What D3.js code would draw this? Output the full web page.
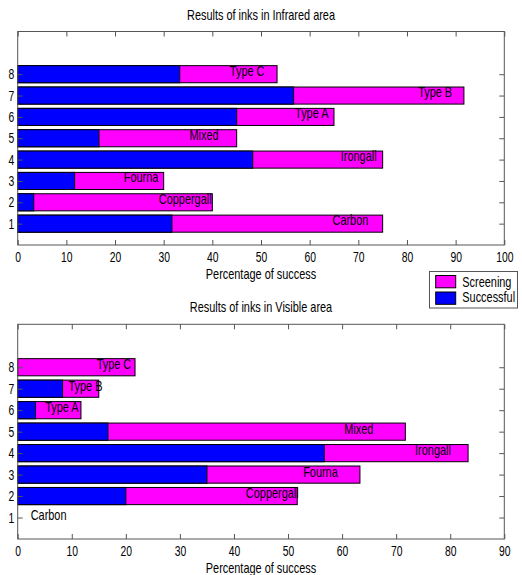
<!DOCTYPE html>
<html>
<head>
<meta charset="utf-8">
<script src="https://cdn.jsdelivr.net/npm/d3@7"></script>
<style>
  body { margin: 0; background: #fff; }
  svg { display: block; }
  text { font-family: "Liberation Sans", Arial, sans-serif; font-size: 14px; fill: #000; }
</style>
</head>
<body>
<svg id="chart" width="522" height="575"></svg>
<script>
// Ink types, one bar per row (rows 1..8)
const inks = ["Carbon", "Coppergall", "Fourna", "Irongall", "Mixed", "Type A", "Type B", "Type C"];
const rows = [1, 2, 3, 4, 5, 6, 7, 8];

// Infrared area: percentage screened and percentage successful
const irScreening  = [75, 40, 30, 75, 45, 65, 91.7, 53.3];
const irSuccessful = [31.7, 3.3, 11.7, 48.3, 16.7, 45, 56.7, 33.3];
// x (in %) where each ink name is written
const irLabelAt    = [64.7, 29.0, 21.8, 66.4, 35.3, 57.0, 82.3, 43.6];
const irTicks      = [0, 10, 20, 30, 40, 50, 60, 70, 80, 90, 100];

// Visible area
const visScreening  = [0, 51.7, 63.3, 83.3, 71.7, 11.7, 15, 21.7];
const visSuccessful = [0, 20, 35, 56.7, 16.7, 3.3, 8.3, 0];
const visLabelAt    = [2.4, 42.2, 52.8, 73.5, 60.4, 5.1, 9.4, 14.6];
const visTicks      = [0, 10, 20, 30, 40, 50, 60, 70, 80, 90];

const seriesNames = ["Screening", "Successful"];
const seriesColors = ["#ff00ff", "#0000ff"];

const SX_NUM = 0.74;      // horizontal squeeze of tick numbers
const SX_TXT = 0.78;      // horizontal squeeze of words
const axisGrey = "#555";
const svg = d3.select("#chart");

function label(parent, x, y, str, anchor) {
  return parent.append("text")
    .attr("transform", `translate(${x},${y}) scale(${SX_TXT},1)`)
    .attr("text-anchor", anchor || "start")
    .text(str);
}

function panel(opts) {
  const { left, right, top, bottom, xMax, ticks, screening, successful, labelAt, labelDy, title } = opts;
  const x = d3.scaleLinear().domain([0, xMax]).range([left, right]);
  const y = d3.scaleLinear().domain([0, 10]).range([bottom, top]);
  const bh = y(0) - y(0.8);
  const g = svg.append("g");

  // bars: screening first, successful drawn over it from zero
  const data = rows.map((r, i) => ({ r, i, scr: screening[i], suc: successful[i] }));
  g.selectAll("rect.scr").data(data.filter(d => d.scr > 0)).join("rect")
    .attr("class", "scr")
    .attr("x", x(0)).attr("y", d => y(d.r) - bh / 2)
    .attr("width", d => x(d.scr) - x(0)).attr("height", bh)
    .attr("fill", seriesColors[0]).attr("stroke", "#000").attr("stroke-width", 1);
  g.selectAll("rect.suc").data(data.filter(d => d.suc > 0)).join("rect")
    .attr("class", "suc")
    .attr("x", x(0)).attr("y", d => y(d.r) - bh / 2)
    .attr("width", d => x(d.suc) - x(0)).attr("height", bh)
    .attr("fill", seriesColors[1]).attr("stroke", "#000").attr("stroke-width", 1);

  // ink names
  data.forEach(d => {
    label(g, x(labelAt[d.i]), y(d.r) + labelDy, inks[d.i]);
  });

  // axes with inward ticks
  const ax = g.append("g").attr("transform", `translate(0,${bottom})`)
    .call(d3.axisBottom(x).tickValues(ticks).tickSizeInner(-5).tickSizeOuter(0).tickPadding(7));
  ax.selectAll(".tick text").attr("transform", `scale(${SX_NUM},1)`);
  const axT = g.append("g").attr("transform", `translate(0,${top})`)
    .call(d3.axisTop(x).tickValues(ticks).tickSizeInner(-5).tickSizeOuter(0).tickFormat(""));
  const ay = g.append("g").attr("transform", `translate(${left},0)`)
    .call(d3.axisLeft(y).tickValues(rows).tickSizeInner(-5).tickSizeOuter(0).tickPadding(4.6).tickFormat(d3.format("d")));
  ay.selectAll(".tick text").attr("transform", `scale(${SX_NUM},1)`);
  const ayR = g.append("g").attr("transform", `translate(${right},0)`)
    .call(d3.axisRight(y).tickValues(rows).tickSizeInner(-5).tickSizeOuter(0).tickFormat(""));
  [ax, axT, ay, ayR].forEach(a => {
    a.select(".domain").remove();
    a.selectAll(".tick line").attr("stroke", axisGrey);
    a.selectAll(".tick text").style("font-size", "14px").style("font-family", null).attr("fill", "#000");
  });

  g.append("rect")
    .attr("x", left).attr("y", top)
    .attr("width", right - left).attr("height", bottom - top)
    .attr("fill", "none").attr("stroke", axisGrey).attr("stroke-width", 1);

  label(g, (left + right) / 2, top - 12, title, "middle");
  label(g, (left + right) / 2, bottom + 34, "Percentage of success", "middle");
}

panel({
  left: 17.7, right: 504.3, top: 31.5, bottom: 245,
  xMax: 100, ticks: irTicks,
  screening: irScreening, successful: irSuccessful, labelAt: irLabelAt, labelDy: 1.3,
  title: "Results of inks in Infrared area"
});

panel({
  left: 17.7, right: 504.3, top: 324.3, bottom: 539,
  xMax: 90, ticks: visTicks,
  screening: visScreening, successful: visSuccessful, labelAt: visLabelAt, labelDy: 2,
  title: "Results of inks in Visible area"
});

// legend
const lg = svg.append("g");
lg.append("rect").attr("x", 429.5).attr("y", 271.5).attr("width", 88).attr("height", 36.5)
  .attr("fill", "#fff").attr("stroke", axisGrey).attr("stroke-width", 1);
seriesNames.forEach((name, i) => {
  lg.append("rect").attr("x", 435.7).attr("y", 275.5 + i * 16.5).attr("width", 20).attr("height", 12.3)
    .attr("fill", seriesColors[i]).attr("stroke", "#000").attr("stroke-width", 1);
  label(lg, 462.3, 286.7 + i * 15.3, name);
});
</script>
</body>
</html>
